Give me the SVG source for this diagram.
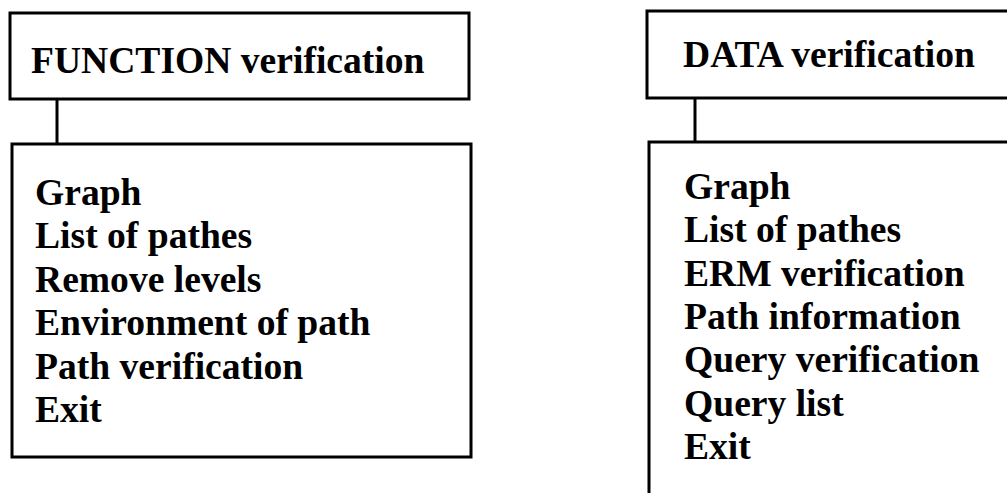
<svg xmlns="http://www.w3.org/2000/svg" width="1007" height="493" viewBox="0 0 1007 493">
  <style>
    .box { fill: #ffffff; stroke: #000000; stroke-width: 3; }
    .link { stroke: #000000; stroke-width: 3; fill: none; }
    .t { font-family: "Liberation Serif", "Times New Roman", serif; font-weight: bold; font-size: 37.6px; fill: #000000; }
  </style>
  <rect width="1007" height="493" fill="#ffffff"/>

  <!-- connectors between header and menu boxes -->
  <g id="connectors">
    <line class="link" x1="57" y1="99" x2="57" y2="144"/>
    <line class="link" x1="695" y1="98" x2="695" y2="142"/>
  </g>

  <!-- function verification header -->
  <g id="function-header">
    <rect class="box" x="10" y="13" width="459" height="86"/>
    <text class="t" x="31" y="73">FUNCTION verification</text>
  </g>

  <!-- function verification menu -->
  <g id="function-menu">
    <rect class="box" x="12" y="144" width="459" height="313"/>
    <text class="t" x="35" y="205">Graph</text>
    <text class="t" x="35" y="248.4">List of pathes</text>
    <text class="t" x="35" y="291.8">Remove levels</text>
    <text class="t" x="35" y="335.2">Environment of path</text>
    <text class="t" x="35" y="378.6">Path verification</text>
    <text class="t" x="35" y="422">Exit</text>
  </g>

  <!-- data verification header -->
  <g id="data-header">
    <rect class="box" x="647" y="11" width="400" height="87"/>
    <text class="t" x="683" y="67">DATA verification</text>
  </g>

  <!-- data verification menu -->
  <g id="data-menu">
    <rect class="box" x="649" y="142" width="400" height="400"/>
    <text class="t" x="684" y="199">Graph</text>
    <text class="t" x="684" y="242.3">List of pathes</text>
    <text class="t" x="684" y="285.6">ERM verification</text>
    <text class="t" x="684" y="328.9">Path information</text>
    <text class="t" x="684" y="372.2">Query verification</text>
    <text class="t" x="684" y="415.5">Query list</text>
    <text class="t" x="684" y="458.8">Exit</text>
  </g>
</svg>
